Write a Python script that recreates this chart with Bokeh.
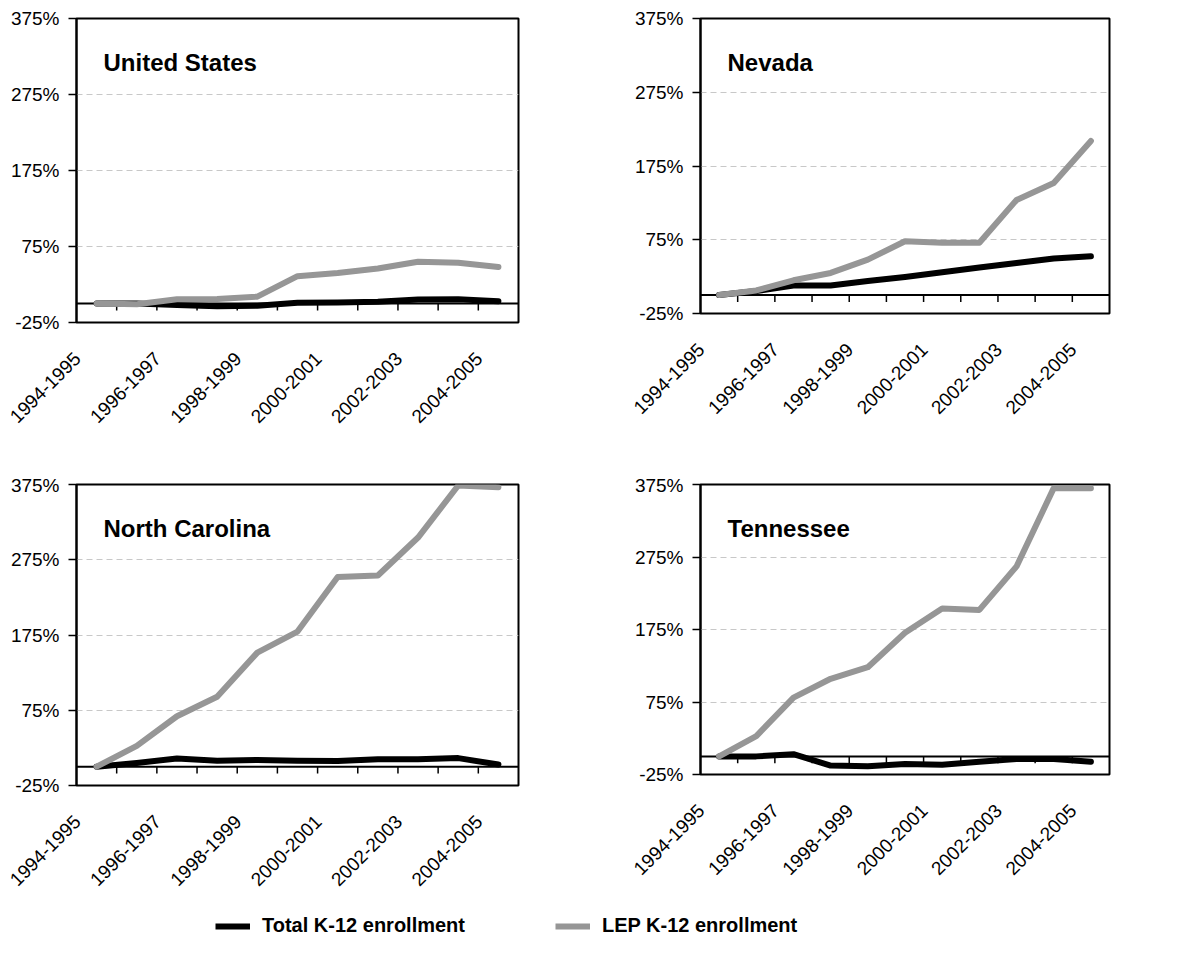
import math
from bokeh.plotting import figure
from bokeh.layouts import column, row
from bokeh.models import (Range1d, FixedTicker, PrintfTickFormatter, Span, Label,
                          Legend, LegendItem, LinearAxis)
from bokeh.embed import file_html
from bokeh.resources import INLINE

# ---------------- data ----------------
years = ["1994-1995", "1995-1996", "1996-1997", "1997-1998", "1998-1999", "1999-2000",
         "2000-2001", "2001-2002", "2002-2003", "2003-2004", "2004-2005"]

us_total = [0, 0, -2, -3.5, -3, 1, 1.3, 2.2, 5.3, 5.7, 3]
us_lep = [0, -1, 5.7, 6, 9, 36, 40, 46, 55, 53.5, 48]

nv_total = [0, 5.5, 13, 13, 19, 24.5, 31, 37.5, 43.5, 49.5, 52.5]
nv_lep = [0, 6.3, 20, 30, 48, 73, 71, 71, 129, 152, 209]

nc_total = [0, 5, 11, 8, 9, 8, 7.5, 10, 10, 11.4, 3]
nc_lep = [0, 27.6, 67, 93, 151.6, 179.6, 252, 254, 304.5, 373.7, 371.5]

tn_total = [0, 0, 3, -12.7, -13.6, -10.5, -11.4, -7.3, -3.6, -3.6, -7.3]
tn_lep = [0, 28, 81, 107, 123, 170.5, 204, 202, 262, 370, 370]

y_ticks = [-25, 75, 175, 275, 375]
grid_ticks = [75, 175, 275]

FONT = "Liberation Sans"
GRAY = "#969696"


def panel(name, total, lep, width, height, bl, br, bt, bb):
    n = len(years)
    frame_h = height - bt - bb
    shift = 0.48  # move rotated labels left by about half a category
    p = figure(width=width, height=height, output_backend="svg", toolbar_location=None,
               x_range=Range1d(-0.5, n - 0.5), y_range=Range1d(-25, 375),
               x_axis_location=None,
               min_border_left=bl, min_border_right=br, min_border_top=bt,
               min_border_bottom=bb)
    p.extra_x_ranges = {"lab": Range1d(-0.5 + shift, n - 0.5 + shift)}
    p.background_fill_color = "white"
    p.border_fill_color = "white"
    p.outline_line_color = "black"
    p.outline_line_width = 2

    # y axis
    ya = p.yaxis[0]
    ya.ticker = FixedTicker(ticks=y_ticks)
    ya.formatter = PrintfTickFormatter(format="%d%%")
    ya.major_tick_out = 8
    ya.major_tick_in = 0
    ya.major_tick_line_width = 1.5
    ya.minor_tick_line_color = None
    ya.axis_line_width = 2
    ya.major_label_standoff = 9
    ya.major_label_text_font = FONT
    ya.major_label_text_font_size = "19px"
    ya.major_label_text_color = "black"

    # x axis (labels only), slightly shifted as in the original
    xa = LinearAxis(x_range_name="lab")
    xa.ticker = FixedTicker(ticks=list(range(0, n, 2)))
    xa.major_label_overrides = {i: years[i] for i in range(0, n, 2)}
    xa.major_label_orientation = math.pi / 4
    xa.axis_line_color = None
    xa.major_tick_line_color = None
    xa.minor_tick_line_color = None
    xa.major_label_standoff = 27
    xa.major_label_text_font = FONT
    xa.major_label_text_font_size = "19px"
    xa.major_label_text_color = "black"
    p.add_layout(xa, "below")

    p.xgrid.visible = False
    p.ygrid.ticker = FixedTicker(ticks=grid_ticks)
    p.ygrid.grid_line_color = "#c8c8c8"
    p.ygrid.grid_line_dash = "6 4"
    p.ygrid.grid_line_width = 1

    # zero line with downward ticks between categories
    zero = Span(location=0, dimension="width", line_color="black", line_width=2,
                level="underlay")
    p.add_layout(zero)
    tick_len = 7 * 400 / frame_h
    tx = [i + 0.5 for i in range(n - 1)]
    p.segment(x0=tx, y0=[0] * len(tx), x1=tx, y1=[-tick_len] * len(tx),
              line_color="black", line_width=1.5)

    x = list(range(n))
    p.line(x, total, line_color="black", line_width=6, line_join="round", line_cap="round")
    p.line(x, lep, line_color=GRAY, line_width=6, line_join="round", line_cap="round")

    p.add_layout(Label(x=-0.5, y=375, x_offset=27, y_offset=-44, text=name,
                       text_font=FONT, text_font_style="bold", text_font_size="24px",
                       text_baseline="alphabetic", text_color="black"))
    return p


# the page has no margin: figures start at (0, 0)
p1 = panel("United States", us_total, us_lep, 591, 474, 76, 73, 18, 152)
p2 = panel("Nevada", nv_total, nv_lep, 583, 465, 109, 65, 18, 152)
p3 = panel("North Carolina", nc_total, nc_lep, 591, 420, 76, 73, 10, 106)
p4 = panel("Tennessee", tn_total, tn_lep, 583, 409, 109, 65, 10, 106)

lf = figure(width=1174, height=70, output_backend="svg", toolbar_location=None,
            x_range=Range1d(0, 1), y_range=Range1d(0, 1),
            x_axis_location=None, y_axis_location=None, min_border=0)
lf.grid.visible = False
lf.outline_line_color = None
r1 = lf.line(x=[-5, -4], y=[-5, -5], line_color="black", line_width=6)
r2 = lf.line(x=[-5, -4], y=[-5, -5], line_color=GRAY, line_width=6)
legend = Legend(items=[LegendItem(label="Total K-12 enrollment", renderers=[r1]),
                       LegendItem(label="LEP K-12 enrollment", renderers=[r2])],
                orientation="horizontal", location=(215, 27),
                border_line_color=None, background_fill_alpha=0,
                label_text_font=FONT, label_text_font_style="bold",
                label_text_font_size="20px", label_text_color="black",
                glyph_width=35, glyph_height=20,
                label_standoff=12, spacing=90, padding=0, margin=0)
lf.add_layout(legend, "center")

layout = column(row(p1, p2), row(p3, p4), lf)

open("out.html", "w").write(file_html(layout, INLINE))
